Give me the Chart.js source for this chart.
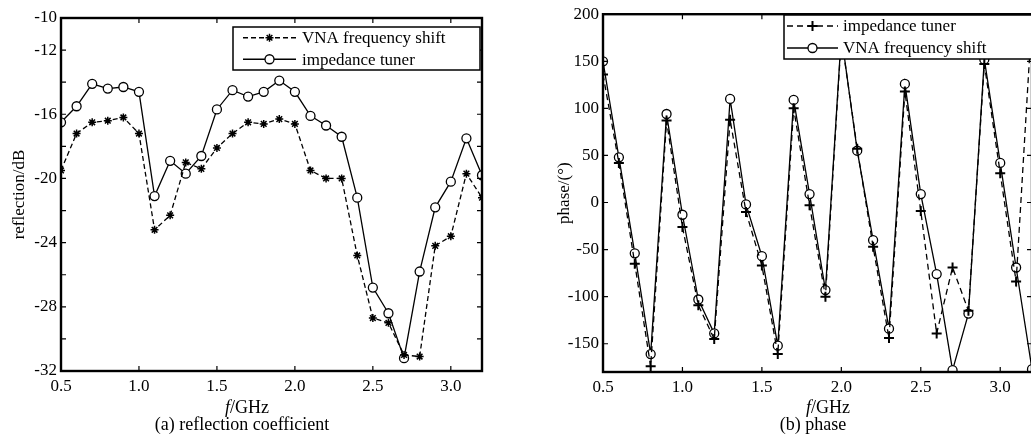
<!DOCTYPE html>
<html>
<head>
<meta charset="utf-8">
<script src="https://cdn.jsdelivr.net/npm/chart.js@4/dist/chart.umd.min.js"></script>
<style>
  html, body { margin: 0; padding: 0; background: #fff; overflow: hidden; width: 1031px; height: 441px; }
  canvas { position: absolute; top: 0; }
  .txt { position: absolute; transform: translate(-50%, -50%); font-family: "Liberation Serif", serif; font-size: 18px; line-height: 1; white-space: nowrap; color: #000; }
</style>
</head>
<body>
<canvas id="refl" width="500" height="441" style="left:0"></canvas>
<canvas id="phase" width="500" height="441" style="left:540px"></canvas>
<div class="txt" style="left:247px;top:407px"><i>f</i>/GHz</div>
<div class="txt" style="left:242px;top:424px">(a) reflection coefficient</div>
<div class="txt" style="left:828px;top:407px"><i>f</i>/GHz</div>
<div class="txt" style="left:813px;top:424px">(b) phase</div>
<script>
// frequency points (GHz)
const freq = [0.5, 0.6, 0.7, 0.8, 0.9, 1.0, 1.1, 1.2, 1.3, 1.4, 1.5, 1.6, 1.7, 1.8,
              1.9, 2.0, 2.1, 2.2, 2.3, 2.4, 2.5, 2.6, 2.7, 2.8, 2.9, 3.0, 3.1, 3.2];

// (a) reflection, dB
const reflVna = [-19.5, -17.2, -16.5, -16.4, -16.2, -17.2, -23.2, -22.3, -19.0, -19.4, -18.1, -17.2, -16.5, -16.6,
                 -16.3, -16.6, -19.5, -20.0, -20.0, -24.8, -28.7, -29.0, -31.0, -31.1, -24.2, -23.6, -19.7, -21.2];
const reflTuner = [-16.5, -15.5, -14.1, -14.4, -14.3, -14.6, -21.1, -18.9, -19.7, -18.6, -15.7, -14.5, -14.9, -14.6,
                   -13.9, -14.6, -16.1, -16.7, -17.4, -21.2, -26.8, -28.4, -31.2, -25.8, -21.8, -20.2, -17.5, -19.8];

// (b) phase, degrees
const phaseTuner = [136, 42, -65, -174, 87, -26, -109, -145, 88, -10, -67, -161, 100, -3,
                    -100, 176, 57, -47, -144, 118, -9, -139, -69, -115, 147, 31, -84, 198];
const phaseVna = [150, 48, -54, -161, 94, -13, -103, -139, 110, -2, -57, -152, 109, 9,
                  -93, 178, 55, -40, -134, 126, 9, -76, -178, -118, 152, 42, -69, -177];

// ticks
const xTicks = [0.5, 1.0, 1.5, 2.0, 2.5, 3.0];
const reflTicks = [-32, -30, -28, -26, -24, -22, -20, -18, -16, -14, -12, -10];
const reflLabels = [-32, -28, -24, -20, -16, -12, -10];
const phaseTicks = [-150, -100, -50, 0, 50, 100, 150, 200];

const FONT = "Liberation Serif";
const pts = (ys) => ys.map((y, i) => ({ x: freq[i], y: y }));

// box round the plot with inward ticks on all four sides
const frame = {
  id: 'frame',
  afterDraw(chart) {
    const ctx = chart.ctx, a = chart.chartArea;
    const sx = chart.scales.x, sy = chart.scales.y;
    ctx.save();
    ctx.strokeStyle = '#000';
    ctx.lineWidth = 1.2;
    ctx.beginPath();
    sx.ticks.forEach(t => {
      const px = sx.getPixelForValue(t.value);
      ctx.moveTo(px, a.bottom); ctx.lineTo(px, a.bottom - 5);
      ctx.moveTo(px, a.top); ctx.lineTo(px, a.top + 5);
    });
    sy.ticks.forEach(t => {
      const py = sy.getPixelForValue(t.value);
      ctx.moveTo(a.left, py); ctx.lineTo(a.left + 5, py);
      ctx.moveTo(a.right, py); ctx.lineTo(a.right - 5, py);
    });
    ctx.stroke();
    ctx.lineWidth = 2.4;
    ctx.strokeRect(a.left, a.top, a.right - a.left, a.bottom - a.top);
    ctx.restore();
  }
};

// boxed legend with line + marker samples
const boxLegend = {
  id: 'boxLegend',
  afterDraw(chart, args, o) {
    const ctx = chart.ctx;
    ctx.save();
    ctx.fillStyle = '#fff';
    ctx.fillRect(o.x, o.y, o.w, o.h);
    ctx.strokeStyle = '#000';
    ctx.lineWidth = 1.5;
    ctx.strokeRect(o.x, o.y, o.w, o.h);
    chart.data.datasets.forEach((ds, i) => {
      const y = o.y + o.h * (2 * i + 1) / 4;
      ctx.beginPath();
      ctx.setLineDash(ds.borderDash || []);
      ctx.lineWidth = ds.borderWidth;
      ctx.moveTo(o.x + o.l0, y); ctx.lineTo(o.x + o.l1, y);
      ctx.stroke();
      ctx.setLineDash([]);
      ctx.fillStyle = ds.pointBackgroundColor;
      ctx.strokeStyle = '#000';
      ctx.lineWidth = ds.pointBorderWidth;
      Chart.helpers.drawPoint(ctx, { pointStyle: ds.pointStyle, radius: ds.pointRadius, rotation: 0,
                                     borderWidth: ds.pointBorderWidth }, o.x + (o.l0 + o.l1) / 2, y);
      ctx.fillStyle = '#000';
      ctx.font = '17px "' + FONT + '"';
      ctx.textBaseline = 'middle';
      ctx.fillText(ds.label, o.x + o.tx, y + 1);
    });
    ctx.restore();
  }
};

function makeChart(id, sets, yMin, yMax, yTicks, yLabels, yTitle, yWidth, yTitlePad, pad, legend) {
  return new Chart(document.getElementById(id), {
    type: 'line',
    data: { datasets: sets },
    options: {
      responsive: false,
      animation: false,
      layout: { padding: pad },
      plugins: { legend: { display: false }, tooltip: { enabled: false }, boxLegend: legend },
      scales: {
        x: {
          type: 'linear', min: 0.5, max: 3.2,
          grid: { display: false, drawTicks: false }, border: { display: false },
          afterBuildTicks: s => { s.ticks = xTicks.map(v => ({ value: v })); },
          afterFit: s => { s.height = 441 - pad.top - (pad.plotH); },
          ticks: { color: '#000', padding: 5, maxRotation: 0, font: { family: FONT, size: 17 },
                   callback: v => v.toFixed(1) }
        },
        y: {
          min: yMin, max: yMax,
          grid: { display: false, drawTicks: false }, border: { display: false },
          afterBuildTicks: s => { s.ticks = yTicks.map(v => ({ value: v })); },
          afterFit: s => { s.width = yWidth; },
          ticks: { color: '#000', padding: 4, font: { family: FONT, size: 17 },
                   callback: v => yLabels.includes(v) ? String(v) : '' },
          title: { display: true, text: yTitle, color: '#000', padding: { top: yTitlePad, bottom: 0 },
                   font: { family: FONT, size: 17 } }
        }
      }
    },
    plugins: [frame, boxLegend]
  });
}

makeChart('refl', [
  { label: 'VNA frequency shift', data: pts(reflVna), borderColor: '#000', borderWidth: 1.3, borderDash: [5, 3],
    pointStyle: 'star', pointRadius: 4, pointBorderWidth: 1.5, pointBorderColor: '#000', pointBackgroundColor: '#000' },
  { label: 'impedance tuner', data: pts(reflTuner), borderColor: '#000', borderWidth: 1.3,
    pointStyle: 'circle', pointRadius: 4.5, pointBorderWidth: 1.3, pointBorderColor: '#000', pointBackgroundColor: '#fff' }
], -32, -10, reflTicks, reflLabels, 'reflection/dB', 61, 9,
  { left: 0, top: 18, right: 18, bottom: 0, plotH: 353 },
  { x: 233, y: 27, w: 247, h: 43, l0: 10, l1: 63, tx: 69 });

makeChart('phase', [
  { label: 'impedance tuner', data: pts(phaseTuner), borderColor: '#000', borderWidth: 1.3, borderDash: [6, 4],
    pointStyle: 'cross', pointRadius: 5, pointBorderWidth: 2, pointBorderColor: '#000', pointBackgroundColor: '#000' },
  { label: 'VNA frequency shift', data: pts(phaseVna), borderColor: '#000', borderWidth: 1.3,
    pointStyle: 'circle', pointRadius: 4.5, pointBorderWidth: 1.3, pointBorderColor: '#000', pointBackgroundColor: '#fff' }
], -180, 200, phaseTicks, phaseTicks, 'phase/(°)', 63, 14,
  { left: 0, top: 14, right: 8, bottom: 0, plotH: 358 },
  { x: 244, y: 15, w: 260, h: 44, l0: 3, l1: 54, tx: 59 });
</script>
</body>
</html>
